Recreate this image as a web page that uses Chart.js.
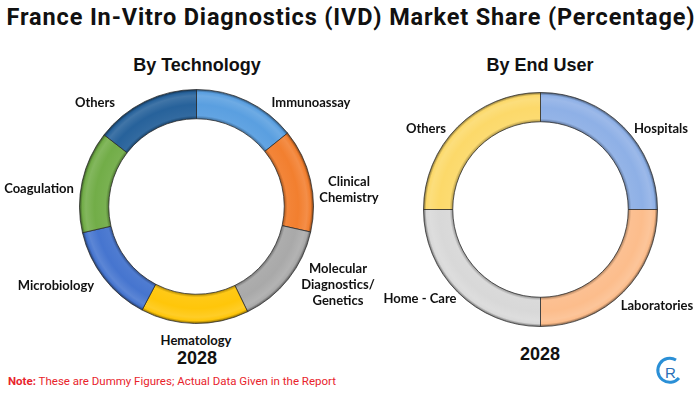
<!DOCTYPE html>
<html>
<head>
<meta charset="utf-8">
<script src="https://cdn.jsdelivr.net/npm/chart.js@4.4.1/dist/chart.umd.min.js"></script>
<style>
  html, body { margin:0; padding:0; background:#fff; }
  #root { position:relative; width:700px; height:393px; overflow:hidden; background:#fff; font-family:"Liberation Sans", Arial, sans-serif; }
  .t { position:absolute; transform:translate(-50%,-50%); white-space:nowrap; text-align:center; color:#111; }
  .title { font-family:Roboto,"Liberation Sans",sans-serif; font-weight:bold; font-size:23.5px; letter-spacing:0.85px; }
  .sub { font-weight:bold; font-size:18px; }
  .lbl { font-family:Lato,"Open Sans",sans-serif; font-weight:bold; font-size:13px; line-height:16px; }
  .yr { font-weight:bold; font-size:18px; }
  .note { position:absolute; left:8px; top:374px; font-family:"Liberation Sans Narrow",Roboto,sans-serif; font-size:11.5px; color:#e8242c; white-space:nowrap; }
  .cw { position:absolute; }
</style>
</head>
<body>
<div id="root">
  <div class="t title" style="left:351px;top:17px;">France In-Vitro Diagnostics (IVD) Market Share (Percentage)</div>
  <div class="t sub" style="left:197px;top:65px;">By Technology</div>
  <div class="t sub" style="left:540px;top:65px;">By End User</div>

  <div class="cw" id="w1" style="left:79px;top:89px;width:235px;height:235px;"><canvas id="c1"></canvas></div>
  <div class="cw" id="w2" style="left:423px;top:92px;width:235px;height:235px;"><canvas id="c2"></canvas></div>

  <div id="labels"></div>

  <div class="note"><b>Note:</b> These are Dummy Figures; Actual Data Given in the Report</div>
  <svg style="position:absolute;left:652px;top:354px;" width="34" height="34" viewBox="0 0 34 34">
    <path d="M24 6 A12 12 0 1 0 27 24" fill="none" stroke="#2a8fd6" stroke-width="3"/>
    <text x="13" y="24" font-family="Liberation Sans, Arial" font-size="15" fill="#2a6fb6">R</text>
  </svg>
</div>
<script>
// ---- data ----
const techLabels = ["Immunoassay", "Clinical\nChemistry", "Molecular\nDiagnostics/\nGenetics", "Hematology", "Microbiology", "Coagulation", "Others"];
const techValues = [14.2, 14.3, 14.3, 14.9, 13.7, 14.1, 14.5];
const userLabels = ["Hospitals", "Laboratories", "Home - Care", "Others"];
const userValues = [25, 25, 25, 25];
const yearLabel = "2028";

// ---- styles ----
const techColors = ["#5a9fe0", "#f27f2f", "#a9a9a9", "#ffc60a", "#4675cf", "#72ad48", "#27629b"];
const userColors = ["#8eb0e6", "#fcbd8c", "#d8d8d8", "#fcd96a"];
const techLabelPos = [[311,102],[349,189],[338,284],[196,340],[56,285],[39,188],[95,102]];
const userLabelPos = [[661,128],[657,305],[420,298],[426,128]];
const yearPos = [[197,358],[540,354]];

function shade(hex, f) {
  const n = parseInt(hex.slice(1),16);
  let r=(n>>16)&255, g=(n>>8)&255, b=n&255;
  if (f<0) { r=r*(1+f); g=g*(1+f); b=b*(1+f); }
  else { r=r+(255-r)*f; g=g+(255-g)*f; b=b+(255-b)*f; }
  return `rgb(${Math.round(r)},${Math.round(g)},${Math.round(b)})`;
}
const CUT = 0.75;
function bevel(colors) {
  return (ctx) => {
    const chart = ctx.chart, ca = chart.chartArea;
    const base = colors[ctx.dataIndex % colors.length];
    if (!ca) return base;
    const cx=(ca.left+ca.right)/2, cy=(ca.top+ca.bottom)/2;
    const outer=Math.min(ca.right-ca.left, ca.bottom-ca.top)/2 - 1;
    const inner=outer*CUT;
    const g = chart.ctx.createRadialGradient(cx,cy,inner,cx,cy,outer);
    g.addColorStop(0, shade(base,-0.35));
    g.addColorStop(0.12, shade(base,0.05));
    g.addColorStop(0.5, base);
    g.addColorStop(0.8, shade(base,0.12));
    g.addColorStop(0.92, base);
    g.addColorStop(1, shade(base,-0.4));
    return g;
  };
}
function makeChart(id, labels, values, colors) {
  return new Chart(document.getElementById(id), {
    type: 'doughnut',
    data: { labels: labels, datasets: [{ data: values, backgroundColor: bevel(colors), borderColor: 'rgba(40,40,40,0.75)', borderWidth: 1 }] },
    options: {
      responsive: true, maintainAspectRatio: false, animation: false,
      cutout: (CUT*100)+'%', rotation: 0,
      layout: { padding: 0 },
      plugins: { legend: { display: false }, tooltip: { enabled: false } }
    }
  });
}
makeChart('c1', techLabels, techValues, techColors);
makeChart('c2', userLabels, userValues, userColors);

const lab = document.getElementById('labels');
function addText(txt, pos, cls) {
  const d = document.createElement('div');
  d.className = 't ' + cls;
  d.style.left = pos[0]+'px'; d.style.top = pos[1]+'px';
  d.innerHTML = txt.split('\n').join('<br>');
  lab.appendChild(d);
}
techLabels.forEach((t,i)=>addText(t, techLabelPos[i], 'lbl'));
userLabels.forEach((t,i)=>addText(t, userLabelPos[i], 'lbl'));
yearPos.forEach(p=>addText(yearLabel, p, 'yr'));
</script>
</body>
</html>
